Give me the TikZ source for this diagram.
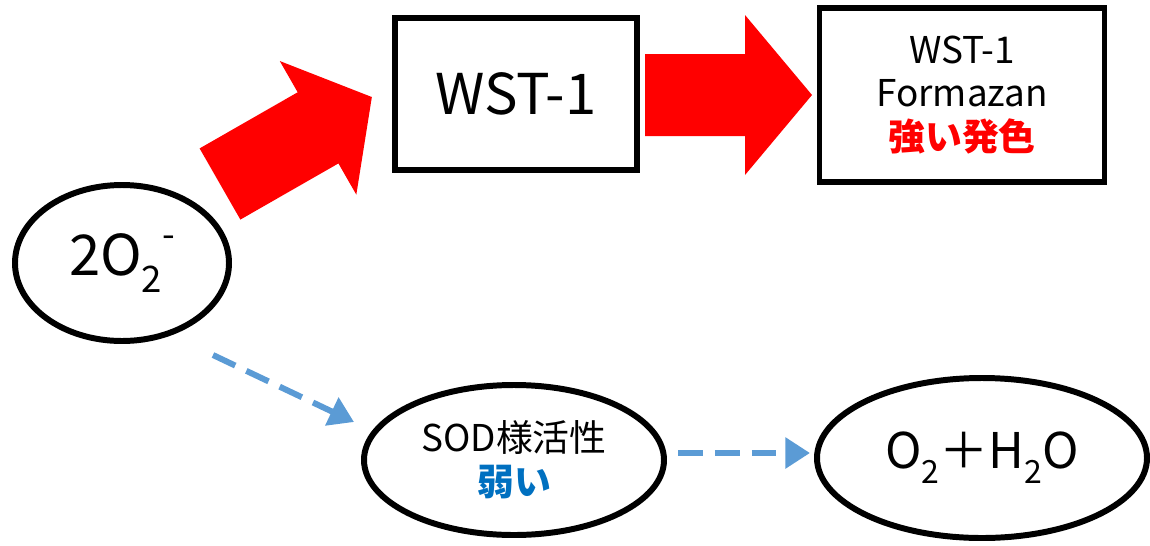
\documentclass[tikz,border=0pt]{standalone}
\usepackage{fontspec}
\setmainfont{Noto Sans CJK JP}
\usetikzlibrary{arrows.meta,shapes.geometric}
\definecolor{dashblue}{HTML}{5B9BD5}
\definecolor{weakblue}{HTML}{0070C0}
\newcommand{\lowsub}[1]{\raisebox{-0.3em}{\scalebox{0.65}{#1}}}
\begin{document}
\begin{tikzpicture}[x=0.02cm, y=-0.02cm,
  oval/.style={draw, ellipse, line width=3.4pt, inner sep=0pt},
  box/.style={draw, rectangle, line width=3.4pt, inner sep=0pt, align=center},
  weakto/.style={dashblue, line width=3.4pt, dash pattern=on 14pt off 7pt, -{Triangle[length=14pt,width=17pt]}}]
\useasboundingbox (0,0) rectangle (1150,545);
\node[oval, minimum width=214*0.02cm, minimum height=156*0.02cm, font=\fontsize{32}{36}\selectfont] (sup) at (122,263) {2O\lowsub{2}\raisebox{0.5em}{\scalebox{0.65}{-}}};
\node[box, minimum width=242*0.02cm, minimum height=152*0.02cm, font=\fontsize{32}{36}\selectfont] (wst) at (516,94) {WST-1};
\node[box, minimum width=285*0.02cm, minimum height=174*0.02cm, font=\fontsize{21}{25}\selectfont] (fmz) at (962,95) {WST-1\\Formazan\\{\color{red}\bfseries 強い発色}};
\node[oval, minimum width=300*0.02cm, minimum height=150*0.02cm, align=center, font=\fontsize{21}{25}\selectfont] (sod) at (514,460) {SOD様活性\\{\color{weakblue}\bfseries 弱い}};
\node[oval, minimum width=330*0.02cm, minimum height=160*0.02cm, font=\fontsize{28}{32}\selectfont] (prd) at (982,458) {O\lowsub{2}＋H\lowsub{2}O};
% strong path
\begin{scope}[shift={(220,184)}, rotate=29.8]
\fill[red] (0,-41) -- (113,-41) -- (113,-77) -- (175,0) -- (113,77) -- (113,41) -- (0,41) -- cycle;
\end{scope}
\fill[red] (645,54) -- (745,54) -- (745,15) -- (812,95) -- (745,175) -- (745,136) -- (645,136) -- cycle;
% weak path
\coordinate (w1) at (213,355);
\coordinate (w2) at (354,422);
\coordinate (w3) at (678,453);
\coordinate (w4) at (810,453);
\draw[weakto] (w1) -- (w2);
\draw[weakto] (w3) -- (w4);
\end{tikzpicture}
\end{document}
